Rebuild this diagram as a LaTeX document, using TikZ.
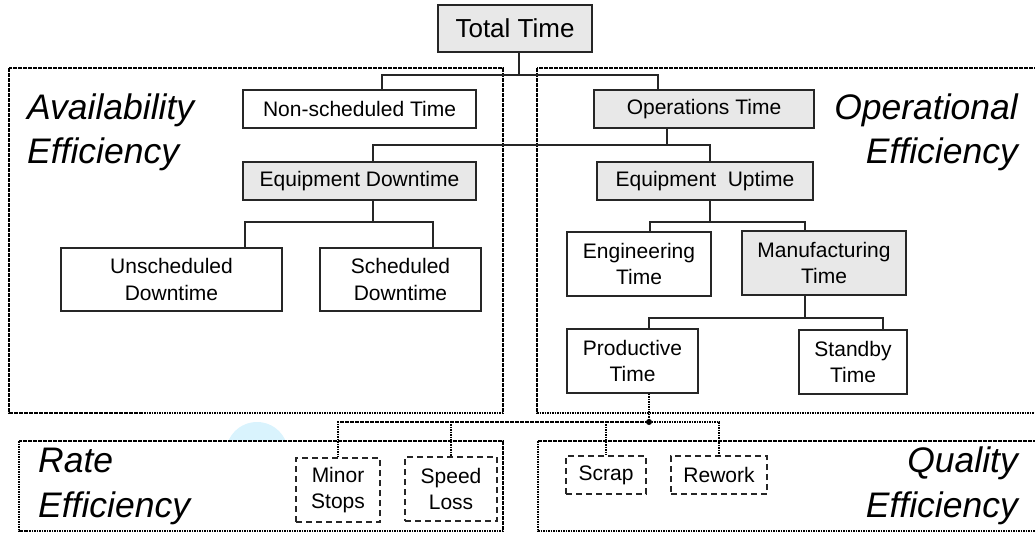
\documentclass[tikz,border=0pt]{standalone}
\usepackage{fontspec}
\setmainfont{Liberation Sans}
\usetikzlibrary{calc}

\tikzset{
  box/.style={draw=black!85, line width=1.3pt, fill=white, inner sep=0pt,
    align=center, font=\fontsize{21}{26.5}\selectfont},
  greybox/.style={box, fill=black!9},
  lossbox/.style={box, dash pattern=on 6pt off 4pt},
  frame/.style={line width=2.6pt, dash pattern=on 1.8pt off 0.7pt, fill=white},
  link/.style={line width=1.3pt, draw=black!85},
  dotlink/.style={line width=2.6pt, dash pattern=on 1.8pt off 0.7pt},
  efftext/.style={font=\itshape\fontsize{35.5}{44.5}\selectfont, inner sep=0pt}
}

\begin{document}
\begin{tikzpicture}[x=1pt, y=-1pt]
  \useasboundingbox (0,0) rectangle (1035,534);
  \clip (0,0) rectangle (1035,534);

  % frames
  \draw[frame] (9,68) rectangle (503,413);
  \draw[frame] (537,68) rectangle (1045,413);
  \fill[cyan!15] (257,453) circle (31pt);
  \draw[frame] (19,441) rectangle (503,531);
  \draw[frame] (538,441) rectangle (1045,531);

  \node[efftext, anchor=base west, align=left] (avail) at (27,164) {Availability\\Efficiency};
  \node[efftext, anchor=base east, align=right] (oper) at (1018,164) {Operational\\Efficiency};
  \node[efftext, anchor=base west, align=left] (rate) at (38,517) {Rate\\Efficiency};
  \node[efftext, anchor=base east, align=right] (qual) at (1018,517) {Quality\\Efficiency};

  % time boxes
  \node[greybox, minimum width=154pt, minimum height=47pt, font=\fontsize{26}{30}\selectfont] (total) at (515,28.5) {Total Time};
  \node[box, minimum width=233pt, minimum height=38pt] (nonsched) at (359.5,109) {Non-scheduled Time};
  \node[greybox, minimum width=220pt, minimum height=38pt] (ops) at (704,109) {Operations Time};
  \node[greybox, minimum width=233pt, minimum height=38pt] (eqdown) at (359.5,181) {Equipment Downtime};
  \node[greybox, minimum width=216pt, minimum height=38pt] (equp) at (705,181) {Equipment\ \ Uptime};
  \node[box, minimum width=221pt, minimum height=63pt] (unsched) at (171.5,279.5) {Unscheduled\\Downtime};
  \node[box, minimum width=161pt, minimum height=63pt] (sched) at (400.5,279.5) {Scheduled\\Downtime};
  \node[box, minimum width=144pt, minimum height=64pt] (eng) at (639,264) {Engineering\\Time};
  \node[greybox, minimum width=164pt, minimum height=64pt] (mfg) at (824,263) {Manufacturing\\Time};
  \node[box, minimum width=131pt, minimum height=64pt] (prod) at (632.5,361) {Productive\\Time};
  \node[box, minimum width=108pt, minimum height=64pt] (standby) at (853,362) {Standby\\Time};

  % loss boxes
  \node[lossbox, minimum width=84pt, minimum height=64pt] (minor) at (338,490) {Minor\\Stops};
  \node[lossbox, minimum width=92pt, minimum height=64pt] (speed) at (451,489) {Speed\\Loss};
  \node[lossbox, minimum width=80pt, minimum height=38pt] (scrap) at (606,475) {Scrap};
  \node[lossbox, minimum width=96pt, minimum height=38pt] (rework) at (719,475) {Rework};

  \coordinate (bus1) at (519,75);
  \coordinate (bus2) at (667,145);
  \coordinate (bus3) at (373,222);
  \coordinate (bus4) at (710,222);
  \coordinate (bus5) at (805,318);
  \coordinate (bus6) at (649,422);

  \draw[link] (bus1 |- total.south) -- (bus1);
  \draw[link] (bus1) -| ([xshift=22.5pt]nonsched.north);
  \draw[link] (bus1) -| ([xshift=-46pt]ops.north);

  \draw[link] (bus2 |- ops.south) -- (bus2);
  \draw[link] (bus2) -| ([xshift=13.5pt]eqdown.north);
  \draw[link] (bus2) -| ([xshift=5pt]equp.north);

  \draw[link] (bus3 |- eqdown.south) -- (bus3);
  \draw[link] (bus3) -| ([xshift=73.5pt]unsched.north);
  \draw[link] (bus3) -| ([xshift=32.5pt]sched.north);

  \draw[link] (bus4 |- equp.south) -- (bus4);
  \draw[link] (bus4) -| ([xshift=11pt]eng.north);
  \draw[link] (bus4) -| ([xshift=-19pt]mfg.north);

  \draw[link] (bus5 |- mfg.south) -- (bus5);
  \draw[link] (bus5) -| ([xshift=16.5pt]prod.north);
  \draw[link] (bus5) -| ([xshift=30pt]standby.north);

  \draw[dotlink] (bus6 |- prod.south) -- (bus6);
  \draw[dotlink] (bus6) -| (minor.north);
  \draw[dotlink] (bus6) -| (speed.north);
  \draw[dotlink] (bus6) -| (scrap.north);
  \draw[dotlink] (bus6) -| (rework.north);
  \fill (bus6) circle (3pt);
\end{tikzpicture}
\end{document}
